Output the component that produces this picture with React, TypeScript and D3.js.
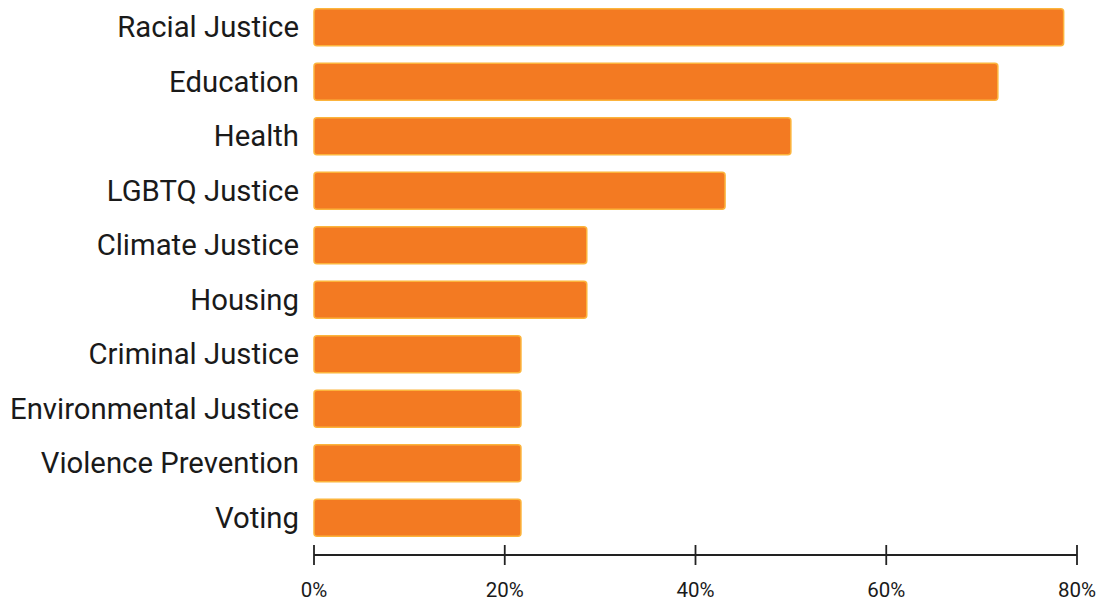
import React from "react";
import * as d3 from "d3";

const categories = [
  "Racial Justice",
  "Education",
  "Health",
  "LGBTQ Justice",
  "Climate Justice",
  "Housing",
  "Criminal Justice",
  "Environmental Justice",
  "Violence Prevention",
  "Voting",
];
const values = [78.6, 71.7, 50.0, 43.1, 28.6, 28.6, 21.7, 21.7, 21.7, 21.7];
const tickValues = [0, 20, 40, 60, 80];

export default function App() {
  const width = 1102;
  const height = 603;
  const x = d3.scaleLinear().domain([0, 80]).range([314, 1077]);
  const y = d3
    .scaleBand<string>()
    .domain(categories)
    .range([0, 545])
    .paddingInner(0.32)
    .paddingOuter(0.16);
  const axisY = 555;
  return (
    <svg
      width={width}
      height={height}
      style={{ position: "absolute", left: 0, top: 0, background: "#fff" }}
      fontFamily="Roboto, sans-serif"
    >
      {categories.map((c, i) => {
        const y0 = y(c)!;
        return (
          <g key={c}>
            <rect
              x={x(0)}
              y={y0}
              width={x(values[i]) - x(0)}
              height={y.bandwidth()}
              rx={3}
              fill="#F37A22"
              stroke="#FCB43C"
              strokeWidth={1.5}
            />
            <text
              x={299}
              y={y0 + y.bandwidth() / 2}
              dy="0.34em"
              textAnchor="end"
              fontSize={29.3}
              fill="#1a1a1a"
            >
              {c}
            </text>
          </g>
        );
      })}
      <line x1={x(0)} x2={x(80)} y1={axisY} y2={axisY} stroke="#222" strokeWidth={1.8} />
      {tickValues.map((t) => (
        <g key={t}>
          <line x1={x(t)} x2={x(t)} y1={axisY - 10} y2={axisY + 10} stroke="#222" strokeWidth={1.8} />
          <text x={x(t)} y={590} dy="0.35em" textAnchor="middle" fontSize={20.5} fill="#1a1a1a">
            {t}%
          </text>
        </g>
      ))}
    </svg>
  );
}
